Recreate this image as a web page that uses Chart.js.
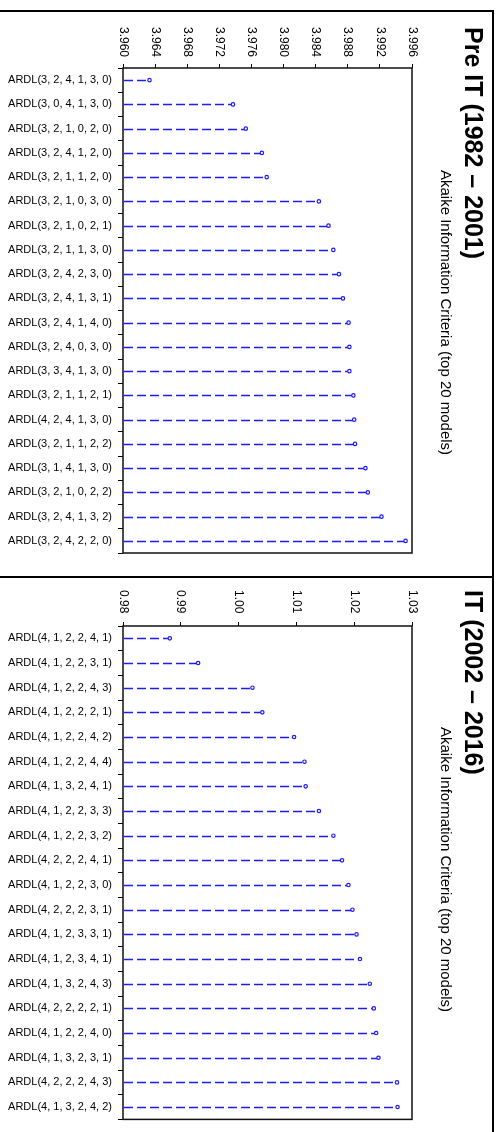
<!DOCTYPE html>
<html>
<head>
<meta charset="utf-8">
<script src="https://cdn.jsdelivr.net/npm/chart.js@4.4.1/dist/chart.umd.min.js"></script>
<style>
	body { margin: 0; background: #fff; width: 500px; height: 1132px; position: relative; overflow: hidden; }
	.panel { position: absolute; box-sizing: border-box; border: 2px solid #000; left: -4px; width: 498px; }
	canvas { position: absolute; left: 0; }
</style>
</head>
<body>
<div class="panel" style="top:10px;height:568px"></div>
<div class="panel" style="top:576px;height:600px"></div>
<canvas id="preChart" width="490" height="563" style="top:12px"></canvas>
<canvas id="itChart" width="490" height="554" style="top:578px"></canvas>
<script>
const preLabels = [
	'ARDL(3, 2, 4, 1, 3, 0)', 'ARDL(3, 0, 4, 1, 3, 0)', 'ARDL(3, 2, 1, 0, 2, 0)', 'ARDL(3, 2, 4, 1, 2, 0)',
	'ARDL(3, 2, 1, 1, 2, 0)', 'ARDL(3, 2, 1, 0, 3, 0)', 'ARDL(3, 2, 1, 0, 2, 1)', 'ARDL(3, 2, 1, 1, 3, 0)',
	'ARDL(3, 2, 4, 2, 3, 0)', 'ARDL(3, 2, 4, 1, 3, 1)', 'ARDL(3, 2, 4, 1, 4, 0)', 'ARDL(3, 2, 4, 0, 3, 0)',
	'ARDL(3, 3, 4, 1, 3, 0)', 'ARDL(3, 2, 1, 1, 2, 1)', 'ARDL(4, 2, 4, 1, 3, 0)', 'ARDL(3, 2, 1, 1, 2, 2)',
	'ARDL(3, 1, 4, 1, 3, 0)', 'ARDL(3, 2, 1, 0, 2, 2)', 'ARDL(3, 2, 4, 1, 3, 2)', 'ARDL(3, 2, 4, 2, 2, 0)'
]
const preValues = [
	3.9633, 3.9737, 3.9753, 3.9773, 3.9779, 3.9844, 3.9856, 3.9862, 3.9869, 3.9874,
	3.9881, 3.9882, 3.9882, 3.9887, 3.9888, 3.9889, 3.9902, 3.9905, 3.9922, 3.9952
]
const preTicks = { min: 3.960, max: 3.996, step: 0.004, digits: 3 }

const itLabels = [
	'ARDL(4, 1, 2, 2, 4, 1)', 'ARDL(4, 1, 2, 2, 3, 1)', 'ARDL(4, 1, 2, 2, 4, 3)', 'ARDL(4, 1, 2, 2, 2, 1)',
	'ARDL(4, 1, 2, 2, 4, 2)', 'ARDL(4, 1, 2, 2, 4, 4)', 'ARDL(4, 1, 3, 2, 4, 1)', 'ARDL(4, 1, 2, 2, 3, 3)',
	'ARDL(4, 1, 2, 2, 3, 2)', 'ARDL(4, 2, 2, 2, 4, 1)', 'ARDL(4, 1, 2, 2, 3, 0)', 'ARDL(4, 2, 2, 2, 3, 1)',
	'ARDL(4, 1, 2, 3, 3, 1)', 'ARDL(4, 1, 2, 3, 4, 1)', 'ARDL(4, 1, 3, 2, 4, 3)', 'ARDL(4, 2, 2, 2, 2, 1)',
	'ARDL(4, 1, 2, 2, 4, 0)', 'ARDL(4, 1, 3, 2, 3, 1)', 'ARDL(4, 2, 2, 2, 4, 3)', 'ARDL(4, 1, 3, 2, 4, 2)'
]
const itValues = [
	0.9881, 0.9930, 1.0024, 1.0041, 1.0096, 1.0114, 1.0116, 1.0139, 1.0164, 1.0179,
	1.0190, 1.0197, 1.0204, 1.0210, 1.0227, 1.0234, 1.0238, 1.0242, 1.0274, 1.0275
]
const itTicks = { min: 0.98, max: 1.03, step: 0.01, digits: 2 }

const subtitle = 'Akaike Information Criteria (top 20 models)'
const lineColor = '#1c1cf8'

// dashed stems, rotated tick labels, titles and the plot frame
const lollipopPlugin = {
	id: 'lollipop',
	beforeDatasetsDraw(chart) {
		const ctx = chart.ctx
		const area = chart.chartArea
		ctx.save()
		ctx.strokeStyle = lineColor
		ctx.lineWidth = 1.5
		ctx.setLineDash([9, 4])
		chart.getDatasetMeta(0).data.forEach(pt => {
			ctx.beginPath()
			ctx.moveTo(area.left + 1, Math.round(pt.y) + 0.5)
			ctx.lineTo(pt.x - 1.5, Math.round(pt.y) + 0.5)
			ctx.stroke()
		})
		ctx.restore()
	},
	afterDraw(chart, args, opts) {
		const ctx = chart.ctx
		const area = chart.chartArea
		const xScale = chart.scales.x
		ctx.save()
		ctx.strokeStyle = '#111'
		ctx.lineWidth = 1.5
		ctx.strokeRect(area.left, area.top, area.right - area.left, area.bottom - area.top)

		const text = (str, x, y, font, color) => {
			ctx.save()
			ctx.translate(x, y)
			ctx.rotate(Math.PI / 2)
			ctx.font = font
			ctx.fillStyle = color
			ctx.textAlign = 'left'
			ctx.textBaseline = 'middle'
			ctx.fillText(str, 0, 0)
			ctx.restore()
		}
		xScale.ticks.forEach(t => {
			text(t.value.toFixed(opts.digits), xScale.getPixelForValue(t.value), opts.tickTop, '12px "Liberation Sans", Arial, sans-serif', '#000')
		})
		text(opts.title, 472, opts.titleTop, 'bold 25px "Liberation Sans", Arial, sans-serif', '#000')
		text(subtitle, 445, opts.subTop, '15px "Liberation Sans", Arial, sans-serif', '#000')
		ctx.restore()
	}
}

function makeChart(id, labels, values, ticks, place) {
	return new Chart(document.getElementById(id), {
		type: 'line',
		data: {
			labels: labels,
			datasets: [{
				data: values,
				showLine: false,
				pointRadius: 1.7,
				pointBorderWidth: 1.2,
				pointBorderColor: lineColor,
				pointBackgroundColor: '#fff'
			}]
		},
		plugins: [lollipopPlugin],
		options: {
			responsive: false,
			animation: false,
			indexAxis: 'y',
			layout: { padding: { left: 0, right: 78, top: place.padTop, bottom: place.padBottom } },
			plugins: {
				legend: { display: false },
				title: { display: false },
				tooltip: { enabled: false },
				lollipop: { digits: ticks.digits, tickTop: place.tickTop, title: place.title, titleTop: place.titleTop, subTop: place.subTop }
			},
			scales: {
				x: {
					type: 'linear',
					position: 'top',
					min: ticks.min,
					max: ticks.max,
					ticks: { display: false, stepSize: ticks.step },
					grid: { drawOnChartArea: false, color: '#000', tickLength: 4 },
					border: { display: false },
					afterFit(scale) { scale.height = 10 }
				},
				y: {
					type: 'category',
					offset: true,
					ticks: {
						padding: 6,
						color: '#000',
						font: { family: '"Liberation Sans", Arial, sans-serif', size: 11 }
					},
					grid: { drawOnChartArea: false, offset: true, color: '#000', tickLength: 5 },
					border: { display: false },
					afterFit(scale) { scale.width = 123 }
				}
			}
		}
	})
}

makeChart('preChart', preLabels, preValues, preTicks,
	{ padTop: 46, padBottom: 22, tickTop: 15, title: 'Pre IT (1982 – 2001)', titleTop: 15, subTop: 158 })
makeChart('itChart', itLabels, itValues, itTicks,
	{ padTop: 38, padBottom: 11, tickTop: 12, title: 'IT (2002 – 2016)', titleTop: 12, subTop: 149 })
</script>
</body>
</html>
